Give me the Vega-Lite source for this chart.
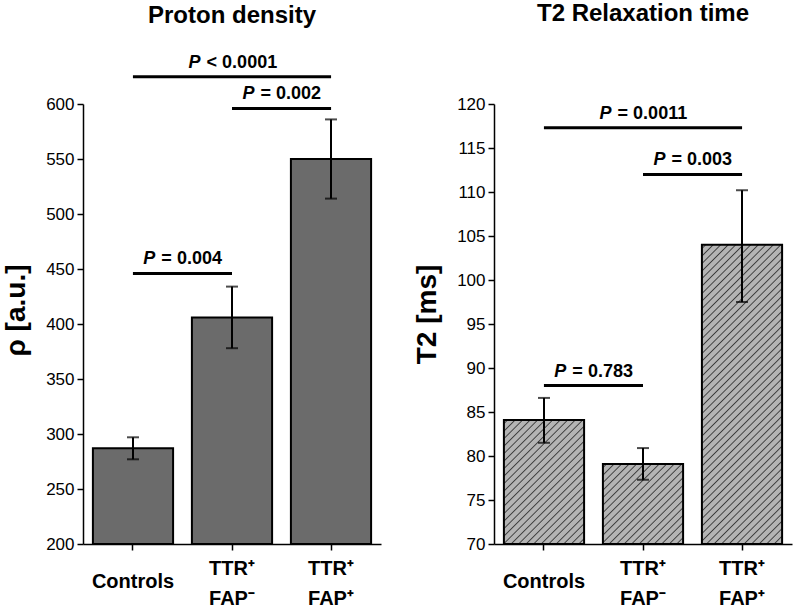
{
  "$schema": "https://vega.github.io/schema/vega-lite/v6.json",
  "background": "white",
  "padding": {"left": 2, "top": 2, "right": 5, "bottom": 0},
  "spacing": 32,
  "params": [
    {"name": "hatch", "value": [
      {"offset":0.0065,"color":"#b4b4b4"},{"offset":0.01,"color":"#3c3c3c"},{"offset":0.0135,"color":"#b4b4b4"},
      {"offset":0.0265,"color":"#b4b4b4"},{"offset":0.03,"color":"#3c3c3c"},{"offset":0.0335,"color":"#b4b4b4"},
      {"offset":0.0465,"color":"#b4b4b4"},{"offset":0.05,"color":"#3c3c3c"},{"offset":0.0535,"color":"#b4b4b4"},
      {"offset":0.0665,"color":"#b4b4b4"},{"offset":0.07,"color":"#3c3c3c"},{"offset":0.0735,"color":"#b4b4b4"},
      {"offset":0.0865,"color":"#b4b4b4"},{"offset":0.09,"color":"#3c3c3c"},{"offset":0.0935,"color":"#b4b4b4"},
      {"offset":0.1065,"color":"#b4b4b4"},{"offset":0.11,"color":"#3c3c3c"},{"offset":0.1135,"color":"#b4b4b4"},
      {"offset":0.1265,"color":"#b4b4b4"},{"offset":0.13,"color":"#3c3c3c"},{"offset":0.1335,"color":"#b4b4b4"},
      {"offset":0.1465,"color":"#b4b4b4"},{"offset":0.15,"color":"#3c3c3c"},{"offset":0.1535,"color":"#b4b4b4"},
      {"offset":0.1665,"color":"#b4b4b4"},{"offset":0.17,"color":"#3c3c3c"},{"offset":0.1735,"color":"#b4b4b4"},
      {"offset":0.1865,"color":"#b4b4b4"},{"offset":0.19,"color":"#3c3c3c"},{"offset":0.1935,"color":"#b4b4b4"},
      {"offset":0.2065,"color":"#b4b4b4"},{"offset":0.21,"color":"#3c3c3c"},{"offset":0.2135,"color":"#b4b4b4"},
      {"offset":0.2265,"color":"#b4b4b4"},{"offset":0.23,"color":"#3c3c3c"},{"offset":0.2335,"color":"#b4b4b4"},
      {"offset":0.2465,"color":"#b4b4b4"},{"offset":0.25,"color":"#3c3c3c"},{"offset":0.2535,"color":"#b4b4b4"},
      {"offset":0.2665,"color":"#b4b4b4"},{"offset":0.27,"color":"#3c3c3c"},{"offset":0.2735,"color":"#b4b4b4"},
      {"offset":0.2865,"color":"#b4b4b4"},{"offset":0.29,"color":"#3c3c3c"},{"offset":0.2935,"color":"#b4b4b4"},
      {"offset":0.3065,"color":"#b4b4b4"},{"offset":0.31,"color":"#3c3c3c"},{"offset":0.3135,"color":"#b4b4b4"},
      {"offset":0.3265,"color":"#b4b4b4"},{"offset":0.33,"color":"#3c3c3c"},{"offset":0.3335,"color":"#b4b4b4"},
      {"offset":0.3465,"color":"#b4b4b4"},{"offset":0.35,"color":"#3c3c3c"},{"offset":0.3535,"color":"#b4b4b4"},
      {"offset":0.3665,"color":"#b4b4b4"},{"offset":0.37,"color":"#3c3c3c"},{"offset":0.3735,"color":"#b4b4b4"},
      {"offset":0.3865,"color":"#b4b4b4"},{"offset":0.39,"color":"#3c3c3c"},{"offset":0.3935,"color":"#b4b4b4"},
      {"offset":0.4065,"color":"#b4b4b4"},{"offset":0.41,"color":"#3c3c3c"},{"offset":0.4135,"color":"#b4b4b4"},
      {"offset":0.4265,"color":"#b4b4b4"},{"offset":0.43,"color":"#3c3c3c"},{"offset":0.4335,"color":"#b4b4b4"},
      {"offset":0.4465,"color":"#b4b4b4"},{"offset":0.45,"color":"#3c3c3c"},{"offset":0.4535,"color":"#b4b4b4"},
      {"offset":0.4665,"color":"#b4b4b4"},{"offset":0.47,"color":"#3c3c3c"},{"offset":0.4735,"color":"#b4b4b4"},
      {"offset":0.4865,"color":"#b4b4b4"},{"offset":0.49,"color":"#3c3c3c"},{"offset":0.4935,"color":"#b4b4b4"},
      {"offset":0.5065,"color":"#b4b4b4"},{"offset":0.51,"color":"#3c3c3c"},{"offset":0.5135,"color":"#b4b4b4"},
      {"offset":0.5265,"color":"#b4b4b4"},{"offset":0.53,"color":"#3c3c3c"},{"offset":0.5335,"color":"#b4b4b4"},
      {"offset":0.5465,"color":"#b4b4b4"},{"offset":0.55,"color":"#3c3c3c"},{"offset":0.5535,"color":"#b4b4b4"},
      {"offset":0.5665,"color":"#b4b4b4"},{"offset":0.57,"color":"#3c3c3c"},{"offset":0.5735,"color":"#b4b4b4"},
      {"offset":0.5865,"color":"#b4b4b4"},{"offset":0.59,"color":"#3c3c3c"},{"offset":0.5935,"color":"#b4b4b4"},
      {"offset":0.6065,"color":"#b4b4b4"},{"offset":0.61,"color":"#3c3c3c"},{"offset":0.6135,"color":"#b4b4b4"},
      {"offset":0.6265,"color":"#b4b4b4"},{"offset":0.63,"color":"#3c3c3c"},{"offset":0.6335,"color":"#b4b4b4"},
      {"offset":0.6465,"color":"#b4b4b4"},{"offset":0.65,"color":"#3c3c3c"},{"offset":0.6535,"color":"#b4b4b4"},
      {"offset":0.6665,"color":"#b4b4b4"},{"offset":0.67,"color":"#3c3c3c"},{"offset":0.6735,"color":"#b4b4b4"},
      {"offset":0.6865,"color":"#b4b4b4"},{"offset":0.69,"color":"#3c3c3c"},{"offset":0.6935,"color":"#b4b4b4"},
      {"offset":0.7065,"color":"#b4b4b4"},{"offset":0.71,"color":"#3c3c3c"},{"offset":0.7135,"color":"#b4b4b4"},
      {"offset":0.7265,"color":"#b4b4b4"},{"offset":0.73,"color":"#3c3c3c"},{"offset":0.7335,"color":"#b4b4b4"},
      {"offset":0.7465,"color":"#b4b4b4"},{"offset":0.75,"color":"#3c3c3c"},{"offset":0.7535,"color":"#b4b4b4"},
      {"offset":0.7665,"color":"#b4b4b4"},{"offset":0.77,"color":"#3c3c3c"},{"offset":0.7735,"color":"#b4b4b4"},
      {"offset":0.7865,"color":"#b4b4b4"},{"offset":0.79,"color":"#3c3c3c"},{"offset":0.7935,"color":"#b4b4b4"},
      {"offset":0.8065,"color":"#b4b4b4"},{"offset":0.81,"color":"#3c3c3c"},{"offset":0.8135,"color":"#b4b4b4"},
      {"offset":0.8265,"color":"#b4b4b4"},{"offset":0.83,"color":"#3c3c3c"},{"offset":0.8335,"color":"#b4b4b4"},
      {"offset":0.8465,"color":"#b4b4b4"},{"offset":0.85,"color":"#3c3c3c"},{"offset":0.8535,"color":"#b4b4b4"},
      {"offset":0.8665,"color":"#b4b4b4"},{"offset":0.87,"color":"#3c3c3c"},{"offset":0.8735,"color":"#b4b4b4"},
      {"offset":0.8865,"color":"#b4b4b4"},{"offset":0.89,"color":"#3c3c3c"},{"offset":0.8935,"color":"#b4b4b4"},
      {"offset":0.9065,"color":"#b4b4b4"},{"offset":0.91,"color":"#3c3c3c"},{"offset":0.9135,"color":"#b4b4b4"},
      {"offset":0.9265,"color":"#b4b4b4"},{"offset":0.93,"color":"#3c3c3c"},{"offset":0.9335,"color":"#b4b4b4"},
      {"offset":0.9465,"color":"#b4b4b4"},{"offset":0.95,"color":"#3c3c3c"},{"offset":0.9535,"color":"#b4b4b4"},
      {"offset":0.9665,"color":"#b4b4b4"},{"offset":0.97,"color":"#3c3c3c"},{"offset":0.9735,"color":"#b4b4b4"},
      {"offset":0.9865,"color":"#b4b4b4"},{"offset":0.99,"color":"#3c3c3c"},{"offset":0.9935,"color":"#b4b4b4"}
    ]}
  ],
  "config": {
    "view": {"stroke": null},
    "font": "Liberation Sans",
    "axis": {"domainColor": "black", "domainWidth": 1.5, "tickColor": "black", "tickWidth": 1.5, "labelColor": "black", "titleColor": "black", "grid": false, "labelFont": "Liberation Sans", "titleFont": "Liberation Sans"},
    "title": {"fontSize": 24, "fontWeight": "bold", "color": "black", "font": "Liberation Sans"}
  },
  "hconcat": [
    {
      "width": 298,
      "height": 440,
      "title": {"text": "Proton density", "offset": 26},
      "resolve": {"scale": {"x": "independent"}, "axis": {"x": "independent"}},
      "layer": [
        {
          "data": {"values": [
            {"g": "Controls", "v": 287, "lo": 277, "hi": 297},
            {"g": "TTR⁺|FAP⁻", "v": 406, "lo": 378, "hi": 434},
            {"g": "TTR⁺|FAP⁺", "v": 550, "lo": 514, "hi": 586}
          ]},
          "encoding": {
            "x": {"field": "g", "type": "nominal", "sort": null, "scale": {"paddingInner": 0.19, "paddingOuter": 0.1},
              "axis": {"title": null, "labelAngle": 0, "labelFontSize": 20, "labelFontWeight": "bold", "labelExpr": "split(datum.label, '|')", "labelBaseline": "middle",
                "labelPadding": {"condition": {"test": "datum.value === 'Controls'", "value": 31}, "value": 18},
                "labelLineHeight": 30, "tickSize": 6}}
          },
          "layer": [
            {
              "mark": {"type": "bar", "fill": "#6b6b6b", "stroke": "black", "strokeWidth": 2},
              "encoding": {
                "y": {"field": "v", "type": "quantitative", "scale": {"domain": [200, 600], "nice": false, "zero": false},
                  "axis": {"title": "ρ [a.u.]", "titleFontSize": 28, "titleFontWeight": "bold", "titleAngle": -90, "titleBaseline": "middle", "titleAlign": "center", "titleX": -67, "titleY": 206,
                    "values": [200,225,250,275,300,325,350,375,400,425,450,475,500,525,550,575,600],
                    "labelExpr": "datum.value % 50 === 0 ? datum.label : ''", "labelOverlap": false, "labelFlush": false, "labelFontSize": 17, "labelPadding": 3,
                    "tickSize": {"condition": {"test": "datum.value % 50 === 0", "value": 6}, "value": 3}}},
                "y2": {"datum": 200}
              }
            },
            {
              "mark": {"type": "rule", "strokeWidth": 2, "color": "black"},
              "encoding": {
                "y": {"field": "lo", "type": "quantitative", "scale": {"domain": [200, 600], "nice": false, "zero": false}},
                "y2": {"field": "hi"}
              }
            },
            {
              "mark": {"type": "tick", "color": "black", "thickness": 2, "size": 12},
              "encoding": {"y": {"field": "lo", "type": "quantitative", "scale": {"domain": [200, 600], "nice": false, "zero": false}}}
            },
            {
              "mark": {"type": "tick", "color": "black", "thickness": 2, "size": 12},
              "encoding": {"y": {"field": "hi", "type": "quantitative", "scale": {"domain": [200, 600], "nice": false, "zero": false}}}
            }
          ]
        },
        {
          "data": {"values": [
            {"x1": 0, "x2": 2, "xm": 1, "y": 624.8, "rest": "< 0.0001"},
            {"x1": 1, "x2": 2, "xm": 1.5, "y": 596, "rest": "= 0.002"},
            {"x1": 0, "x2": 1, "xm": 0.5, "y": 446, "rest": "= 0.004"}
          ]},
          "layer": [
            {
              "mark": {"type": "rule", "strokeWidth": 3, "color": "black"},
              "encoding": {
                "x": {"field": "x1", "type": "quantitative", "scale": {"domain": [-0.504, 2.504], "nice": false, "zero": false}, "axis": null},
                "x2": {"field": "x2"},
                "y": {"field": "y", "type": "quantitative", "scale": {"domain": [200, 600], "nice": false, "zero": false}}
              }
            },
            {
              "mark": {"type": "text", "text": "P", "fontStyle": "italic", "fontWeight": "bold", "fontSize": 18, "align": "right", "baseline": "middle", "dy": -14, "dx": {"expr": "3 - length(datum.rest) * 4.3"}, "color": "black"},
              "encoding": {
                "x": {"field": "xm", "type": "quantitative", "scale": {"domain": [-0.504, 2.504], "nice": false, "zero": false}, "axis": null},
                "y": {"field": "y", "type": "quantitative", "scale": {"domain": [200, 600], "nice": false, "zero": false}}
              }
            },
            {
              "mark": {"type": "text", "fontWeight": "bold", "fontSize": 18, "align": "left", "baseline": "middle", "dy": -14, "dx": {"expr": "9 - length(datum.rest) * 4.3"}, "color": "black"},
              "encoding": {
                "x": {"field": "xm", "type": "quantitative", "scale": {"domain": [-0.504, 2.504], "nice": false, "zero": false}, "axis": null},
                "y": {"field": "y", "type": "quantitative", "scale": {"domain": [200, 600], "nice": false, "zero": false}},
                "text": {"field": "rest"}
              }
            }
          ]
        }
      ]
    },
    {
      "width": 298,
      "height": 440,
      "title": {"text": "T2 Relaxation time", "offset": 69},
      "resolve": {"scale": {"x": "independent"}, "axis": {"x": "independent"}},
      "layer": [
        {
          "data": {"values": [
            {"g": "Controls", "v": 84.1, "lo": 81.5, "hi": 86.6},
            {"g": "TTR⁺|FAP⁻", "v": 79.1, "lo": 77.3, "hi": 80.9},
            {"g": "TTR⁺|FAP⁺", "v": 104, "lo": 97.5, "hi": 110.2}
          ]},
          "encoding": {
            "x": {"field": "g", "type": "nominal", "sort": null, "scale": {"paddingInner": 0.19, "paddingOuter": 0.1},
              "axis": {"title": null, "labelAngle": 0, "labelFontSize": 20, "labelFontWeight": "bold", "labelExpr": "split(datum.label, '|')", "labelBaseline": "middle",
                "labelPadding": {"condition": {"test": "datum.value === 'Controls'", "value": 31}, "value": 18},
                "labelLineHeight": 30, "tickSize": 6}}
          },
          "layer": [
            {
              "mark": {"type": "bar", "stroke": "black", "strokeWidth": 2,
                "fill": {"expr": "{gradient: 'linear', x1: 0, y1: 0, x2: 375 * 80 / (6400 + pow((datum.v - 70) * 8.8, 2)), y2: 375 * (datum.v - 70) * 8.8 / (6400 + pow((datum.v - 70) * 8.8, 2)), stops: hatch}"}},
              "encoding": {
                "y": {"field": "v", "type": "quantitative", "scale": {"domain": [70, 120], "nice": false, "zero": false},
                  "axis": {"title": "T2 [ms]", "titleFontSize": 28, "titleFontWeight": "bold", "titleAngle": -90, "titleBaseline": "middle", "titleAlign": "center", "titleX": -67, "titleY": 210,
                    "values": [70,72.5,75,77.5,80,82.5,85,87.5,90,92.5,95,97.5,100,102.5,105,107.5,110,112.5,115,117.5,120],
                    "labelExpr": "datum.value % 5 === 0 ? datum.label : ''", "labelOverlap": false, "labelFlush": false, "labelFontSize": 17, "labelPadding": 3,
                    "tickSize": {"condition": {"test": "datum.value % 5 === 0", "value": 6}, "value": 3}}},
                "y2": {"datum": 70}
              }
            },
            {
              "mark": {"type": "rule", "strokeWidth": 2, "color": "black"},
              "encoding": {
                "y": {"field": "lo", "type": "quantitative", "scale": {"domain": [70, 120], "nice": false, "zero": false}},
                "y2": {"field": "hi"}
              }
            },
            {
              "mark": {"type": "tick", "color": "black", "thickness": 2, "size": 12},
              "encoding": {"y": {"field": "lo", "type": "quantitative", "scale": {"domain": [70, 120], "nice": false, "zero": false}}}
            },
            {
              "mark": {"type": "tick", "color": "black", "thickness": 2, "size": 12},
              "encoding": {"y": {"field": "hi", "type": "quantitative", "scale": {"domain": [70, 120], "nice": false, "zero": false}}}
            }
          ]
        },
        {
          "data": {"values": [
            {"x1": 0, "x2": 2, "xm": 1, "y": 117.3, "rest": "= 0.0011"},
            {"x1": 1, "x2": 2, "xm": 1.5, "y": 112, "rest": "= 0.003"},
            {"x1": 0, "x2": 1, "xm": 0.5, "y": 88, "rest": "= 0.783"}
          ]},
          "layer": [
            {
              "mark": {"type": "rule", "strokeWidth": 3, "color": "black"},
              "encoding": {
                "x": {"field": "x1", "type": "quantitative", "scale": {"domain": [-0.504, 2.504], "nice": false, "zero": false}, "axis": null},
                "x2": {"field": "x2"},
                "y": {"field": "y", "type": "quantitative", "scale": {"domain": [70, 120], "nice": false, "zero": false}}
              }
            },
            {
              "mark": {"type": "text", "text": "P", "fontStyle": "italic", "fontWeight": "bold", "fontSize": 18, "align": "right", "baseline": "middle", "dy": -14, "dx": {"expr": "3 - length(datum.rest) * 4.3"}, "color": "black"},
              "encoding": {
                "x": {"field": "xm", "type": "quantitative", "scale": {"domain": [-0.504, 2.504], "nice": false, "zero": false}, "axis": null},
                "y": {"field": "y", "type": "quantitative", "scale": {"domain": [70, 120], "nice": false, "zero": false}}
              }
            },
            {
              "mark": {"type": "text", "fontWeight": "bold", "fontSize": 18, "align": "left", "baseline": "middle", "dy": -14, "dx": {"expr": "9 - length(datum.rest) * 4.3"}, "color": "black"},
              "encoding": {
                "x": {"field": "xm", "type": "quantitative", "scale": {"domain": [-0.504, 2.504], "nice": false, "zero": false}, "axis": null},
                "y": {"field": "y", "type": "quantitative", "scale": {"domain": [70, 120], "nice": false, "zero": false}},
                "text": {"field": "rest"}
              }
            }
          ]
        }
      ]
    }
  ]
}
